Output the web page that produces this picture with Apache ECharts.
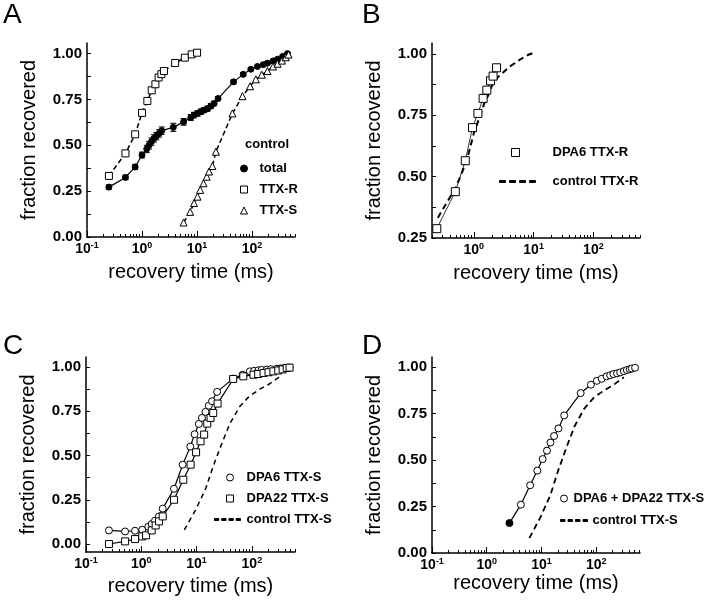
<!DOCTYPE html>
<html>
<head>
<meta charset="utf-8">
<script src="https://cdn.jsdelivr.net/npm/echarts@6/dist/echarts.min.js"></script>
<style>
html, body { margin: 0; padding: 0; background: #fff; }
#chart { width: 720px; height: 600px; }
</style>
</head>
<body>
<div id="chart"></div>
<script>
// recovery time in ms, fraction recovered

// A: control
var aTotalX = [0.25, 0.5, 0.75, 1.0, 1.22, 1.34, 1.48, 1.65, 1.82, 2.04, 2.28, 3.7, 5.7, 7.7, 8.8, 10.2, 11.7, 13.4, 15.5, 17.8, 20.4, 24.1, 46, 69, 95, 125, 160, 190, 240, 290, 360, 440];
var aTotalY = [0.272, 0.325, 0.382, 0.447, 0.48, 0.50, 0.52, 0.538, 0.55, 0.565, 0.58, 0.598, 0.628, 0.652, 0.665, 0.674, 0.683, 0.692, 0.70, 0.714, 0.728, 0.755, 0.846, 0.887, 0.915, 0.93, 0.94, 0.948, 0.96, 0.97, 0.985, 1.0];
var aTotalErr = [0.012, 0.012, 0.014, 0.016, 0.02, 0.02, 0.02, 0.02, 0.02, 0.02, 0.02, 0.022, 0.018, 0.016, 0.015, 0.015, 0.015, 0.014, 0.014, 0.014, 0.012, 0.01, 0.01, 0.008, 0.008, 0.007, 0.007, 0.006, 0.006, 0.006, 0.005, 0.005];
var aRX = [0.25, 0.5, 0.75, 1.0, 1.25, 1.5, 1.75, 2.0, 2.25, 2.5, 4, 6, 8, 10];
var aRY = [0.333, 0.456, 0.56, 0.677, 0.742, 0.80, 0.833, 0.87, 0.888, 0.905, 0.949, 0.978, 0.996, 1.005];
var aSX = [5.7, 7.5, 8.8, 10.2, 11.4, 13.1, 15, 16.5, 19, 22, 44, 67, 92, 117, 150, 190, 240, 290, 350, 410, 460];
var aSY = [0.079, 0.137, 0.185, 0.22, 0.257, 0.293, 0.329, 0.357, 0.387, 0.465, 0.674, 0.768, 0.822, 0.86, 0.885, 0.905, 0.93, 0.945, 0.962, 0.98, 0.995];

// B: DPA6 TTX-R
var bX = [0.24, 0.49, 0.72, 0.95, 1.17, 1.43, 1.65, 1.9, 2.1, 2.4];
var bY = [0.288, 0.439, 0.565, 0.70, 0.758, 0.819, 0.853, 0.891, 0.91, 0.944];

// C: DPA6 / DPA22 TTX-S
var c6X = [0.26, 0.51, 0.77, 1.04, 1.34, 1.54, 1.77, 2.09, 2.44, 3.9, 5.6, 7.7, 9.2, 11, 12.5, 14.5, 16.6, 19, 23.5, 45.5, 68, 92, 110, 131, 150, 186, 220, 282, 330, 380, 427, 480];
var c6Y = [0.077, 0.071, 0.075, 0.081, 0.098, 0.113, 0.132, 0.156, 0.2, 0.312, 0.448, 0.55, 0.62, 0.678, 0.712, 0.746, 0.781, 0.806, 0.859, 0.934, 0.956, 0.975, 0.978, 0.981, 0.983, 0.985, 0.987, 0.99, 0.992, 0.993, 0.994, 0.996];
var c22X = [0.26, 0.51, 0.77, 1.04, 1.22, 1.54, 1.82, 2.09, 2.44, 3.9, 5.75, 7.8, 9.8, 11.8, 13.7, 15.6, 17.9, 20, 24, 46, 70, 107, 130, 163, 200, 245, 300, 360, 427, 480];
var c22Y = [0.0, 0.015, 0.028, 0.043, 0.049, 0.077, 0.105, 0.128, 0.156, 0.25, 0.363, 0.448, 0.518, 0.58, 0.618, 0.68, 0.712, 0.74, 0.793, 0.932, 0.947, 0.956, 0.96, 0.966, 0.97, 0.975, 0.98, 0.986, 0.994, 0.996];

// D: DPA6 + DPA22 TTX-S
var dX = [2.6, 4.2, 6.2, 8.4, 10.5, 12.6, 14.6, 17, 20.4, 26, 52, 80, 103, 126, 155, 180, 206, 240, 274, 320, 363, 410, 447, 513];
var dY = [0.161, 0.26, 0.364, 0.443, 0.505, 0.55, 0.594, 0.629, 0.67, 0.74, 0.86, 0.905, 0.926, 0.937, 0.95, 0.956, 0.962, 0.966, 0.971, 0.978, 0.984, 0.988, 0.992, 0.996];
var dErr = [0.01, 0.01, 0.012, 0.014, 0.014, 0.014, 0.014, 0.014, 0.014, 0.012, 0.01, 0.008, 0.006, 0.006, 0.005, 0.005, 0.005, 0.005, 0.005, 0.005, 0.005, 0.005, 0.005, 0.005];

// control TTX-S curve shown in C and D
var ctrlSX = [6, 9.5, 14.5, 20, 28, 40, 60, 90, 140, 210, 320];
var ctrlSY = [0.08, 0.19, 0.31, 0.44, 0.56, 0.68, 0.775, 0.835, 0.875, 0.905, 0.945];

// ticks
var xDecades = [-1, 0, 1, 2];
var yTickLabels = [0, 0.25, 0.5, 0.75, 1];

var FONT = '"Liberation Sans", Arial, Helvetica, sans-serif';
var BLACK = '#000';
// dashed line legend icon
var DASH_ICON = 'path://M0,0h6v1h-6zM10,0h6v1h-6zM20,0h6v1h-6zM30,0h6v1h-6z';

var chart = echarts.init(document.getElementById('chart'));

function logPts(xs, ys) {
    return xs.map(function (x, i) { return [Math.log10(x), ys[i]]; });
}
function errPts(xs, ys, es) {
    return xs.map(function (x, i) { return [Math.log10(x), ys[i] - es[i], ys[i] + es[i]]; });
}
function inRange(vals, r) {
    return vals.filter(function (v) { return v >= r[0] - 1e-9 && v <= r[1] + 1e-9; });
}

var minorVals = [];
for (var d = -1; d <= 2; d++) {
    for (var k = 2; k <= 9; k++) minorVals.push(d + Math.log10(k));
}
var yMinorVals = [];
for (var t = 0; t <= 8; t++) yMinorVals.push(t * 0.125);

var grids = [
    { left: 87, top: 43, width: 208, height: 194 },
    { left: 432, top: 43, width: 208, height: 195 },
    { left: 86, top: 357, width: 209, height: 195 },
    { left: 432, top: 357, width: 208, height: 196 }
];
var xRange = [[-1, 2.78], [-0.7, 2.78], [-1, 2.78], [-1, 2.8]];
var yRange = [[0, 1.058], [0.25, 1.045], [-0.045, 1.056], [0, 1.054]];
var xNameGap = [25, 25, 24, 18];

var xAxes = [], yAxes = [];
grids.forEach(function (g, i) {
    g.outerBoundsMode = 'none';
    var r = xRange[i];
    xAxes.push({
        type: 'value', gridIndex: i, min: r[0], max: r[1], position: 'bottom',
        name: 'recovery time (ms)', nameLocation: 'middle', nameGap: xNameGap[i],
        nameTextStyle: { fontFamily: FONT, fontSize: 20, color: BLACK },
        axisLine: { show: true, onZero: false, lineStyle: { color: BLACK, width: 1.5 } },
        axisTick: { show: true, inside: true, length: 6, lineStyle: { color: BLACK }, customValues: inRange(xDecades, r) },
        axisLabel: {
            customValues: inRange(xDecades, r), margin: 4, color: BLACK,
            formatter: function (v) { return '{b|10}{s|' + Math.round(v) + '}'; },
            rich: {
                b: { fontFamily: FONT, fontSize: 14, fontWeight: 'bold', color: BLACK },
                s: { fontFamily: FONT, fontSize: 9, fontWeight: 'bold', color: BLACK, padding: [0, 0, 8, 0] }
            }
        },
        splitLine: { show: false }
    });
    // minor ticks
    xAxes.push({
        type: 'value', gridIndex: i, min: r[0], max: r[1], position: 'bottom',
        axisLine: { show: false, onZero: false },
        axisTick: { show: true, inside: true, length: 3, lineStyle: { color: BLACK }, customValues: inRange(minorVals, r) },
        axisLabel: { show: false },
        splitLine: { show: false }
    });
    var yr = yRange[i];
    yAxes.push({
        type: 'value', gridIndex: i, min: yr[0], max: yr[1],
        name: 'fraction recovered', nameLocation: 'middle', nameGap: 48,
        nameTextStyle: { fontFamily: FONT, fontSize: 20, color: BLACK },
        axisLine: { show: true, onZero: false, lineStyle: { color: BLACK, width: 1.5 } },
        axisTick: { show: true, inside: true, length: 4, lineStyle: { color: BLACK }, customValues: inRange(yMinorVals, yr) },
        axisLabel: {
            customValues: inRange(yTickLabels, yr), margin: 5, color: BLACK,
            fontFamily: FONT, fontSize: 15, fontWeight: 'bold',
            formatter: function (v) { return v.toFixed(2); }
        },
        splitLine: { show: false }
    });
});

function lineSeries(name, gi, xs, ys, opt) {
    return {
        name: name, type: 'line', xAxisIndex: gi * 2, yAxisIndex: gi,
        data: logPts(xs, ys),
        symbol: opt.symbol || 'none', symbolSize: opt.size || 7,
        showAllSymbol: true, animation: false, z: opt.z || 3,
        lineStyle: { color: BLACK, width: opt.width || 1.2, type: opt.dash || 'solid' },
        itemStyle: { color: opt.fill || '#fff', borderColor: BLACK, borderWidth: 1 }
    };
}

function errSeries(gi, xs, ys, es, cap) {
    return {
        type: 'custom', xAxisIndex: gi * 2, yAxisIndex: gi, silent: true, z: 2,
        animation: false,
        data: errPts(xs, ys, es),
        encode: { x: 0, y: [1, 2] },
        renderItem: function (params, api) {
            var lo = api.coord([api.value(0), api.value(1)]);
            var hi = api.coord([api.value(0), api.value(2)]);
            var st = { stroke: BLACK, lineWidth: 1 };
            return {
                type: 'group',
                children: [
                    { type: 'line', shape: { x1: lo[0], y1: lo[1], x2: hi[0], y2: hi[1] }, style: st },
                    { type: 'line', shape: { x1: hi[0] - cap, y1: hi[1], x2: hi[0] + cap, y2: hi[1] }, style: st },
                    { type: 'line', shape: { x1: lo[0] - cap, y1: lo[1], x2: lo[0] + cap, y2: lo[1] }, style: st }
                ]
            };
        }
    };
}

var dashA = [5, 3];
var series = [
    // A
    errSeries(0, aTotalX, aTotalY, aTotalErr, 3),
    lineSeries('total', 0, aTotalX, aTotalY, { symbol: 'circle', size: 6, fill: BLACK, width: 1.2 }),
    lineSeries('TTX-R', 0, aRX, aRY, { symbol: 'rect', size: 7, width: 1.5, dash: dashA }),
    lineSeries('TTX-S', 0, aSX, aSY, { symbol: 'triangle', size: 7, width: 1.5, dash: dashA }),
    // B
    lineSeries('control TTX-R', 1, aRX, aRY, { width: 2, dash: [6, 4], z: 2, fill: BLACK }),
    lineSeries('DPA6 TTX-R', 1, bX, bY, { symbol: 'rect', size: 8, width: 0.8 }),
    // C
    lineSeries('control TTX-S', 2, ctrlSX, ctrlSY, { width: 1.5, dash: [5, 4], z: 2, fill: BLACK }),
    lineSeries('DPA6 TTX-S', 2, c6X, c6Y, { symbol: 'circle', size: 7, width: 1.2 }),
    lineSeries('DPA22 TTX-S', 2, c22X, c22Y, { symbol: 'rect', size: 7, width: 1.2 }),
    // D
    lineSeries('control TTX-S', 3, ctrlSX, ctrlSY, { width: 1.8, dash: [6, 4], z: 2, fill: BLACK }),
    errSeries(3, dX, dY, dErr, 2.5),
    lineSeries('DPA6 + DPA22 TTX-S', 3, dX, dY, { symbol: 'circle', size: 7, width: 1.2 })
];
// first point of D drawn filled
series[series.length - 1].data[0] = { value: series[series.length - 1].data[0], itemStyle: { color: BLACK } };

function leg(name, icon, left, top, w, h, pad) {
    return {
        data: [{ name: name, icon: icon }], left: left, top: top, padding: 0, orient: 'vertical',
        itemWidth: w, itemHeight: h, selectedMode: false, symbolKeepAspect: false,
        itemStyle: { borderWidth: 1 },
        textStyle: { fontFamily: FONT, fontSize: 13, fontWeight: 'bold', color: BLACK, padding: [0, 0, 0, pad] }
    };
}

var legends = [
    leg('total', 'circle', 240, 162, 7, 7, 7),
    leg('TTX-R', 'rect', 240, 183, 7, 7, 7),
    leg('TTX-S', 'triangle', 240, 204, 7, 7, 7),
    leg('DPA6 TTX-R', 'rect', 511, 146, 8, 8, 28),
    leg('control TTX-R', DASH_ICON, 499, 175, 36, 2, 12),
    leg('DPA6 TTX-S', 'circle', 226, 471, 7, 7, 8),
    leg('DPA22 TTX-S', 'rect', 226, 492, 7, 7, 8),
    leg('control TTX-S', DASH_ICON, 214, 513, 26, 2, 1),
    leg('DPA6 + DPA22 TTX-S', 'circle', 560, 492, 7, 7, 1),
    leg('control TTX-S', DASH_ICON, 560, 514, 27, 2, 0)
];

function letter(txt, left, top) {
    return { text: txt, left: left, top: top, padding: 0,
        textStyle: { fontFamily: FONT, fontSize: 28, fontWeight: 'normal', color: BLACK } };
}

var option = {
    backgroundColor: '#fff',
    animation: false,
    title: [
        letter('A', 3, 1), letter('B', 362, 1), letter('C', 3, 332), letter('D', 362, 332),
        { text: 'control', left: 245, top: 138, padding: 0,
          textStyle: { fontFamily: FONT, fontSize: 13, fontWeight: 'bold', color: BLACK } }
    ],
    legend: legends,
    grid: grids,
    xAxis: xAxes,
    yAxis: yAxes,
    series: series
};

chart.setOption(option);
</script>
</body>
</html>
